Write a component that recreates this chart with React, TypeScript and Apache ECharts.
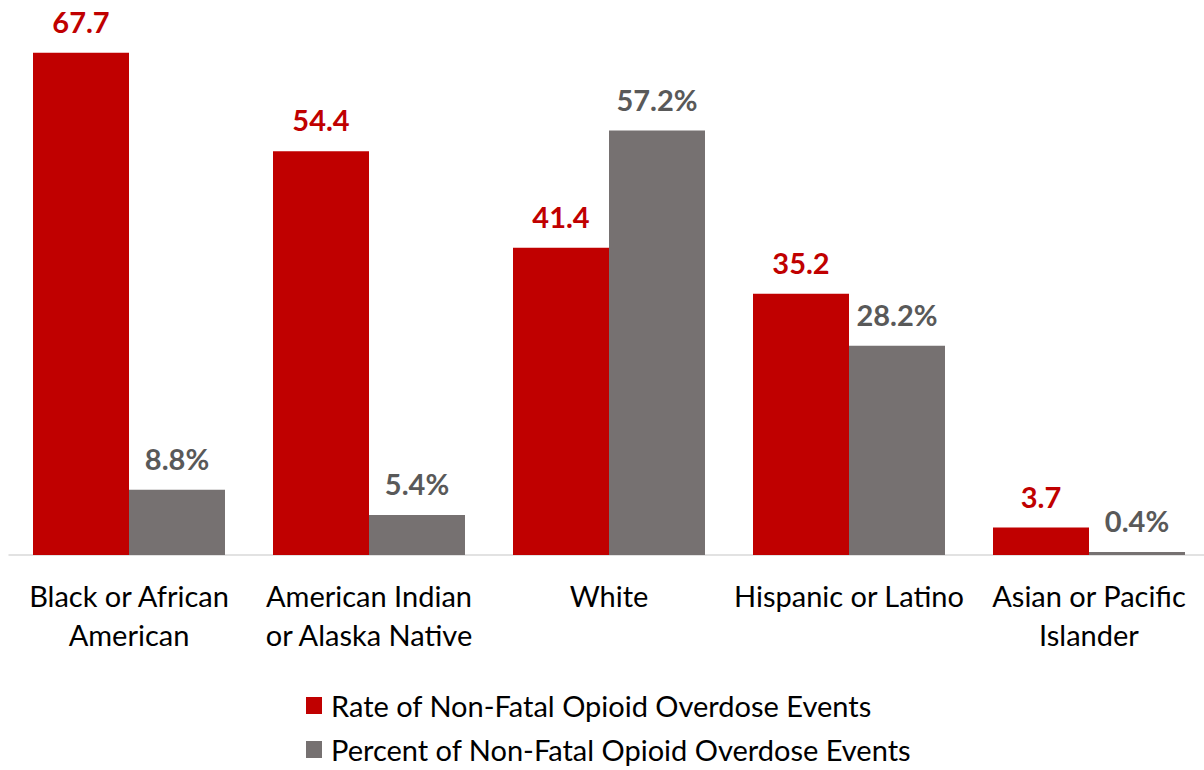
import React, { useEffect, useRef } from "react";
import * as echarts from "echarts";

const categories = [
  "Black or African\nAmerican",
  "American Indian\nor Alaska Native",
  "White",
  "Hispanic or Latino",
  "Asian or Pacific\nIslander",
];
const rateValues = [67.7, 54.4, 41.4, 35.2, 3.7];
const percentValues = [8.8, 5.4, 57.2, 28.2, 0.4];
const seriesNames = [
  "Rate of Non-Fatal Opioid Overdose Events",
  "Percent of Non-Fatal Opioid Overdose Events",
];

const FONT = "Lato";

export default function App() {
  const ref = useRef<HTMLDivElement>(null);
  useEffect(() => {
    if (!ref.current) return;
    const chart = echarts.init(ref.current, undefined, { renderer: "svg" });
    chart.setOption({
      animation: false,
      textStyle: { fontFamily: FONT },
      grid: { left: 9, width: 1200, top: 35.6, height: 519.4 },
      xAxis: {
        type: "category",
        data: categories,
        axisLine: { lineStyle: { color: "#D9D9D9", width: 1.5 } },
        axisTick: { show: false },
        axisLabel: {
          color: "#000000",
          fontSize: 29,
          fontFamily: FONT,
          lineHeight: 39,
          margin: 21,
          interval: 0,
        },
      },
      yAxis: {
        type: "value",
        min: 0,
        max: 70,
        show: false,
        splitLine: { show: false },
      },
      legend: {
        orient: "vertical",
        left: 306,
        top: 689,
        padding: 0,
        itemWidth: 16,
        itemHeight: 17,
        itemGap: 11,
        icon: "rect",
        textStyle: {
          fontSize: 29,
          lineHeight: 33,
          color: "#000000",
          fontFamily: FONT,
          padding: [0, 0, 0, 4],
        },
        data: seriesNames,
      },
      series: [
        {
          name: seriesNames[0],
          type: "bar",
          data: rateValues,
          barGap: "0%",
          barCategoryGap: "20%",
          itemStyle: { color: "#C00000" },
          label: {
            show: true,
            position: "top",
            distance: 17,
            color: "#C00000",
            fontSize: 29,
            fontWeight: "bold",
            fontFamily: FONT,
            formatter: (p: any) => p.value.toFixed(1),
          },
        },
        {
          name: seriesNames[1],
          type: "bar",
          data: percentValues,
          barGap: "0%",
          barCategoryGap: "20%",
          itemStyle: { color: "#767171" },
          label: {
            show: true,
            position: "top",
            distance: 17,
            color: "#595959",
            fontSize: 29,
            fontWeight: "bold",
            fontFamily: FONT,
            formatter: (p: any) => p.value.toFixed(1) + "%",
          },
        },
      ],
    });
    return () => chart.dispose();
  }, []);
  return (
    <div
      style={{
        position: "fixed",
        left: 0,
        top: 0,
        width: 1204,
        height: 770,
        overflow: "hidden",
        background: "#fff",
      }}
    >
      <div ref={ref} style={{ width: 1230, height: 770 }} />
    </div>
  );
}
